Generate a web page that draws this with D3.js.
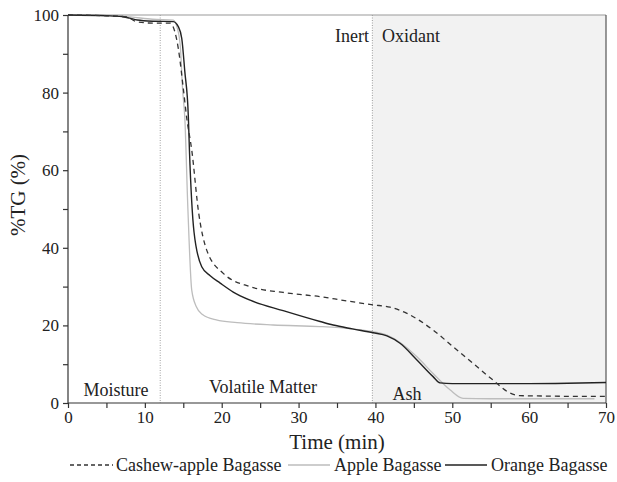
<!DOCTYPE html>
<html><head><meta charset="utf-8">
<script src="https://cdn.jsdelivr.net/npm/d3@7"></script>
<style>body{margin:0;background:#fff}svg text{font-family:"Liberation Serif","Times New Roman",serif;fill:#222}</style>
</head><body><svg id="c" width="617" height="482"></svg>
<script>
const xTicks=[0,10,20,30,40,50,60,70];
const yTicks=[0,20,40,60,80,100];
const seriesNames=["Cashew-apple Bagasse","Apple Bagasse","Orange Bagasse"];
const cashewT=[0,5,7.6,8.9,11,13.3,13.9,14.35,15,15.45,16.1,17,18.05,20.2,23.7,28,32.8,36,39.7,41.9,44.1,47.5,50.1,52.7,55.3,57.3,58.8,62,66,70];
const cashewY=[100,99.8,99.5,98.3,97.9,97.9,95.7,91.4,81.1,73.4,65.2,49,39.4,33.4,30,28.5,27.4,26.4,25.3,24.7,23.1,18.8,14.5,10.2,5.9,2.8,1.9,1.8,1.7,1.7];
const appleT=[0,5,8.1,11,13.7,14.1,14.6,14.9,15.2,15.6,16.1,16.7,17.5,19.3,22,26.7,32.8,37,39.7,41.5,43.2,45.4,47.5,49.7,51.4,55,60,65,68.5];
const appleY=[100,99.9,99.5,98.9,98.7,97.4,92.3,81.1,73.4,50,29.1,24.8,22.8,21.4,20.7,20.1,19.7,19.1,18.4,17.5,15.6,11.9,7.6,3.4,1.2,1.1,1.1,1.1,1.1];
const orangeT=[0,5,7,8,9,11,13.7,14.35,14.8,15.2,15.65,15.8,16.4,17.4,18.5,19.8,21.5,23.7,28,32.8,34.5,37,39.7,41.5,43.2,45.4,47.5,48.4,50,55,60,65,70];
const orangeY=[100,99.8,99.6,99.2,98.7,98.4,98.3,97,94,85.4,74.2,65.2,44,35.1,32.8,30.9,28.6,26.5,23.8,21,20.1,19.1,18.1,17.3,15.4,11.1,6.8,5.2,5.0,5.0,5.0,5.1,5.3];
const boundaryT=[12,39.6];

const svg=d3.select("#c");
const L=68,R=606,T=15,B=403;
const x=d3.scaleLinear().domain([0,70]).range([L,R]);
const y=d3.scaleLinear().domain([0,100]).range([B,T]);

svg.append("rect").attr("x",x(boundaryT[1])).attr("y",T).attr("width",R-x(boundaryT[1])).attr("height",B-T).attr("fill","#f2f2f2");
boundaryT.forEach(t=>svg.append("line").attr("x1",x(t)).attr("x2",x(t)).attr("y1",T).attr("y2",B).attr("stroke","#888").attr("stroke-width",0.8).attr("stroke-dasharray","1,1.5"));
svg.append("line").attr("x1",L).attr("x2",R).attr("y1",T).attr("y2",T).attr("stroke","#999").attr("stroke-width",1.2);
svg.append("line").attr("x1",R).attr("x2",R).attr("y1",T).attr("y2",B).attr("stroke","#555").attr("stroke-width",1.2);

const line=d3.line().x(d=>x(d[0])).y(d=>y(d[1])).curve(d3.curveMonotoneX);
const zip=(a,b)=>a.map((v,i)=>[v,b[i]]);
svg.append("path").datum(zip(appleT,appleY)).attr("d",line).attr("fill","none").attr("stroke","#bdbdbd").attr("stroke-width",1.3);
svg.append("path").datum(zip(orangeT,orangeY)).attr("d",line).attr("fill","none").attr("stroke","#222").attr("stroke-width",1.4);
svg.append("path").datum(zip(cashewT,cashewY)).attr("d",line).attr("fill","none").attr("stroke","#333").attr("stroke-width",1.3).attr("stroke-dasharray","5,4");

const xa=d3.axisBottom(x).tickValues(d3.range(0,71,5)).tickSize(5).tickFormat(d=>xTicks.includes(d)?d:"");
const gx=svg.append("g").attr("transform",`translate(0,${B})`).call(xa);
gx.selectAll("text").attr("font-size",17).attr("y",8).attr("dy","0.71em");
const ya=d3.axisLeft(y).tickValues(d3.range(0,101,10)).tickSize(5).tickFormat(d=>yTicks.includes(d)?d:"");
const gy=svg.append("g").attr("transform",`translate(${L},0)`).call(ya);
gy.selectAll("text").attr("font-size",17).attr("x",-9);
[gx,gy].forEach(g=>{g.selectAll("path,line").attr("stroke","#333").attr("stroke-width",1.2);g.selectAll("text").attr("font-family","Liberation Serif").attr("fill","#222");});
gx.select(".domain").attr("d",`M${L},0H${R}`);
gy.select(".domain").attr("d",`M0,${T}V${B}`);

svg.append("text").attr("x",(L+R)/2).attr("y",449).attr("text-anchor","middle").attr("font-size",21).text("Time (min)");
svg.append("text").attr("transform",`translate(25,195) rotate(-90)`).attr("text-anchor","middle").attr("font-size",21).text("%TG (%)");

const ann=[["Inert",369,42,"end"],["Oxidant",382,42,"start"],["Moisture",116,396,"middle"],["Volatile Matter",263,393,"middle"],["Ash",407,400,"middle"]];
ann.forEach(a=>svg.append("text").attr("x",a[1]).attr("y",a[2]).attr("text-anchor",a[3]).attr("font-size",18).text(a[0]));

const leg=[[70,113,"#333","4,3",1.3,116],[288,330,"#bdbdbd",null,1.3,334],[445,487,"#222",null,1.4,491]];
leg.forEach((l,i)=>{
  const ln=svg.append("line").attr("x1",l[0]).attr("x2",l[1]).attr("y1",465).attr("y2",465).attr("stroke",l[2]).attr("stroke-width",l[4]);
  if(l[3]) ln.attr("stroke-dasharray",l[3]);
  svg.append("text").attr("x",l[5]).attr("y",471).attr("font-size",18).text(seriesNames[i]);
});
</script></body></html>
